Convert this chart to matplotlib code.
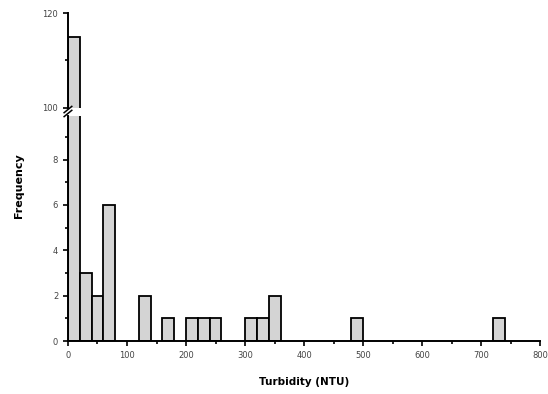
import matplotlib.pyplot as plt
import numpy as np

# histogram of turbidity values, 20 NTU bins (left edges) and counts
bin_left = [0, 20, 40, 60, 120, 160, 200, 220, 240, 300, 320, 340, 480, 720]
counts = [115, 3, 2, 6, 2, 1, 1, 1, 1, 1, 1, 2, 1, 1]
bin_width = 20

x_ticks = [0, 100, 200, 300, 400, 500, 600, 700, 800]
low_ticks = [0, 2, 4, 6, 8]
high_ticks = [100, 120]

plt.rcParams['font.family'] = ['DejaVu Sans']
fig = plt.figure(figsize=(5.48, 3.94), dpi=100)
ax_lo = fig.add_axes([0.124, 0.1345, 0.862, 0.57])
ax_hi = fig.add_axes([0.124, 0.726, 0.862, 0.241], sharex=ax_lo)

for ax in (ax_lo, ax_hi):
    ax.bar(bin_left, counts, width=bin_width, align='edge',
           color='#d4d4d4', edgecolor='black', linewidth=1.3)
    ax.spines['top'].set_visible(False)
    ax.spines['right'].set_visible(False)
    ax.spines['left'].set_linewidth(1.4)
    ax.spines['bottom'].set_linewidth(1.4)
    ax.tick_params(direction='out', width=1.2, length=3.5, labelsize=6,
                   labelcolor='#444444')
    ax.tick_params(which='minor', direction='out', width=1.2, length=2.5)

ax_lo.set_xlim(0, 800)
ax_lo.set_ylim(0, 9.9)
ax_lo.set_yticks(low_ticks)
ax_lo.set_yticks([1, 3, 5, 7, 9], minor=True)
ax_lo.set_xticks(x_ticks)
ax_lo.set_xticks([50, 150, 250, 350, 450, 550, 650, 750], minor=True)

ax_hi.set_ylim(100, 120)
ax_hi.set_yticks(high_ticks)
ax_hi.set_yticks([110], minor=True)
ax_hi.spines['bottom'].set_visible(False)
ax_hi.tick_params(axis='x', which='both', bottom=False, labelbottom=False)

# break marks on the y axis
kw = dict(transform=fig.transFigure, color='black', linewidth=1.1, clip_on=False)
for yb in (0.712, 0.722):
    fig.add_artist(plt.Line2D([0.117, 0.131], [yb - 0.008, yb + 0.008], **kw))

fig.text(0.035, 0.53, 'Frequency', rotation=90, va='center', ha='center',
         fontsize=8, fontweight='bold')
fig.text(0.555, 0.03, 'Turbidity (NTU)', ha='center', va='center',
         fontsize=7.5, fontweight='bold')

plt.savefig('out.png', dpi=100)
